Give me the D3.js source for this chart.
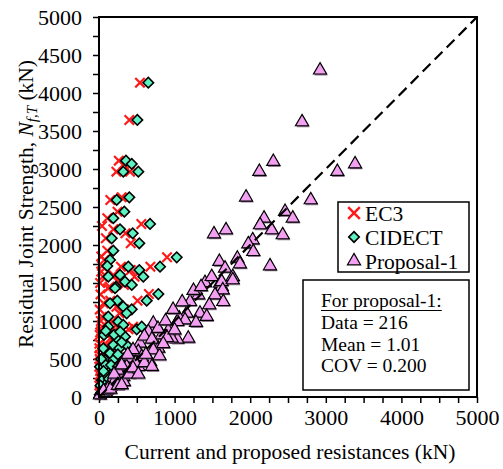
<!DOCTYPE html>
<html><head><meta charset="utf-8">
<script src="https://cdn.jsdelivr.net/npm/d3@7"></script>
<style>
body{margin:0;background:#fff}
svg text{font-family:"Liberation Serif","Times New Roman",serif;fill:#000}
</style>
</head><body>
<svg id="c" width="503" height="469" font-family="Liberation Serif, serif"></svg>
<script>
// ---- data (kN) ----
const xTicks = [0,1000,2000,3000,4000,5000];
const yTicks = [0,500,1000,1500,2000,2500,3000,3500,4000,4500,5000];

const cidectX = [652,507,357,433,321,520,234,401,335,189,278,675,446,168,533,189,146,110,388,533,807,1028,586,278,123,344,433,225,212,785,631,242,146,321,433,366,123,255,321,123,499,565,66,234,344,366,189,57,269,146,79,189,321,13,123,57,189,40,100,20,60,30,10,150,90,30,90,160,250,200,90,280,300,60,130,200,250,170,80];
const cidectY = [4136,3645,3110,3066,2965,2965,2593,2628,2439,2352,2207,2277,2154,2088,2023,1925,1803,1724,1715,1671,1715,1838,1583,1606,1583,1517,1474,1452,1431,1355,1267,1267,1233,1188,1154,1101,1057,991,948,925,891,925,816,772,794,684,684,641,641,575,487,487,509,399,378,290,333,220,180,150,100,60,30,250,300,500,420,420,560,820,870,860,720,340,240,180,400,90,40];

const ec3X = [542,401,262,330,230,410,150,300,245,110,190,560,350,90,420,110,70,40,290,420,680,900,470,190,50,250,330,140,120,660,510,150,60,230,330,270,40,170,230,40,390,450,10,150,250,270,100,5,180,60,20,100,230,5,50,10,110,30,15,20,10,25,15,5,10,5,20,5,10,30,40,10,40,90,170,120,30,190,210,15,60,120,170,100,30];
const ec3Y = [4136,3645,3110,3066,2965,2965,2593,2628,2439,2352,2207,2277,2154,2088,2023,1925,1803,1724,1715,1671,1715,1838,1583,1606,1583,1517,1474,1452,1431,1355,1267,1267,1233,1188,1154,1101,1057,991,948,925,891,925,816,772,794,684,684,641,641,575,487,487,509,399,378,290,333,1850,1500,1350,1150,1000,850,700,550,450,250,150,80,1650,2250,500,420,420,560,820,870,860,720,340,240,180,400,90,40];

const propX = [2924,2686,2306,2121,1945,2183,2130,2461,2285,2430,1521,1680,2033,1975,2041,1830,1592,1865,1667,1769,2262,1402,1491,1601,1623,3387,3153,2801,2563,1623,1769,1314,1204,1637,1535,1644,1459,1336,1160,1062,1138,1283,1425,1036,718,652,917,830,1181,1036,962,785,718,542,520,675,565,410,366,520,278,321,146,123,13,212,450,600,780,880,980,1100,1250,1350,700,480,250,380,900,1000,60,200,300,150,250,330,400,450,600,620,800,850,300,520,700];
const propY = [4300,3619,3097,2965,2628,2352,2264,2439,2198,2132,2145,2198,2066,2013,1912,1825,1781,1750,1694,1583,1724,1504,1583,1496,1452,3066,2965,2593,2352,1517,1540,1342,1254,1408,1342,1254,1211,1101,1101,1036,1013,978,1057,991,970,859,873,816,772,759,772,641,619,707,596,465,530,509,399,399,312,267,180,114,26,224,620,800,900,1000,1150,1250,1400,1450,760,450,350,560,780,880,80,300,420,100,150,200,300,380,450,560,540,700,160,300,400];

const seriesNames = ["EC3","CIDECT","Proposal-1"];
const statsLines = ["Data = 216","Mean = 1.01","COV = 0.200"];

// ---- chart ----
const FONT = "Liberation Serif, Times New Roman, serif";
const svg = d3.select("#c");
const x = d3.scaleLinear().domain([0,5000]).range([99,477]);
const y = d3.scaleLinear().domain([0,5000]).range([397,17]);
const minor = d3.range(0,5001,250);

const gx = svg.append("g").attr("transform","translate(0,397)")
  .call(d3.axisBottom(x).tickValues(minor).tickSize(6).tickSizeOuter(0)
    .tickFormat(d => xTicks.includes(d) ? d : ""));
gx.attr("font-family",FONT);
gx.select(".domain").remove();
gx.selectAll(".tick line").attr("stroke","#000").attr("stroke-width",1.5);
gx.selectAll(".tick text").attr("font-family",FONT).attr("font-size",22).attr("dy","0.76em").attr("y",11);

const gy = svg.append("g").attr("transform","translate(99,0)")
  .call(d3.axisLeft(y).tickValues(minor).tickSize(6).tickSizeOuter(0)
    .tickFormat(d => yTicks.includes(d) ? d : ""));
gy.attr("font-family",FONT);
gy.select(".domain").remove();
gy.selectAll(".tick line").attr("stroke","#000").attr("stroke-width",1.5);
gy.selectAll(".tick text").attr("font-family",FONT).attr("font-size",22).attr("x",-17);

// markers
const cross = d3.symbol().type(d3.symbolX).size(60);
const diamond = d3.symbol().type(d3.symbolSquare).size(55);
const tri = d3.symbol().type(d3.symbolTriangle).size(75);

svg.append("g").selectAll("path").data(ec3X.map((v,i)=>[v,ec3Y[i]])).join("path")
  .attr("d", cross).attr("transform", d=>`translate(${x(d[0])},${y(d[1])})`)
  .attr("stroke","#ff1a1a").attr("stroke-width",2.2).attr("fill","none");

svg.append("g").selectAll("path").data(cidectX.map((v,i)=>[v,cidectY[i]])).join("path")
  .attr("d", diamond).attr("transform", d=>`translate(${x(d[0])},${y(d[1])}) rotate(45)`)
  .attr("fill","#5ef2c2").attr("stroke","#000").attr("stroke-width",1.6);

const pd = propX.map((v,i)=>[v,propY[i]]);
const gp = svg.append("g");
pd.forEach(d=>{
  gp.append("path").attr("d",tri).attr("transform",`translate(${x(d[0])+1},${y(d[1])+1.5})`)
    .attr("fill","#6e4a6e").attr("opacity",0.75);
  gp.append("path").attr("d",tri).attr("transform",`translate(${x(d[0])},${y(d[1])})`)
    .attr("fill","#f3a0f3").attr("stroke","#000").attr("stroke-width",1.2);
});

// 1:1 line
svg.append("line").attr("x1",x(0)).attr("y1",y(0)).attr("x2",x(5000)).attr("y2",y(5000))
  .attr("stroke","#000").attr("stroke-width",2.2).attr("stroke-dasharray","11,6");

// frame
svg.append("rect").attr("x",99).attr("y",17).attr("width",378).attr("height",380)
  .attr("fill","none").attr("stroke","#000").attr("stroke-width",2);

// axis titles
svg.append("text").attr("x",290).attr("y",459).attr("text-anchor","middle").attr("font-size",21.5)
  .attr("font-family",FONT).text("Current and proposed resistances (kN)");
const yt = svg.append("text").attr("transform","translate(33,348) rotate(-90)").attr("font-size",21.5).attr("font-family",FONT);
yt.append("tspan").text("Residual Joint Strength, ");
yt.append("tspan").attr("font-style","italic").text("N");
yt.append("tspan").attr("font-style","italic").attr("font-size",15).attr("dy",4).text("f,T");
yt.append("tspan").attr("dy",-4).text(" (kN)");

// legend
const lg = svg.append("g").attr("font-family",FONT);
lg.append("rect").attr("x",338).attr("y",202).attr("width",131).attr("height",70)
  .attr("fill","#fff").attr("stroke","#000").attr("stroke-width",1.5);
const ly = [213,237,261];
lg.append("path").attr("d",d3.symbol().type(d3.symbolX).size(90)).attr("transform",`translate(354,${ly[0]})`)
  .attr("stroke","#ff1a1a").attr("stroke-width",2.5).attr("fill","none");
lg.append("path").attr("d",diamond).attr("transform",`translate(354,${ly[1]}) rotate(45)`)
  .attr("fill","#5ef2c2").attr("stroke","#000").attr("stroke-width",1.6);
lg.append("path").attr("d",tri).attr("transform",`translate(354,${ly[2]})`)
  .attr("fill","#f3a0f3").attr("stroke","#000").attr("stroke-width",1.2);
seriesNames.forEach((n,i)=>{
  lg.append("text").attr("x",365).attr("y",ly[i]).attr("dy","0.35em").attr("font-size",21.5)
    .attr("font-family",FONT).text(n);
});

// stats box
const sb = svg.append("g").attr("font-family",FONT);
sb.append("rect").attr("x",303).attr("y",280).attr("width",166).attr("height",110)
  .attr("fill","#fff").attr("stroke","#000").attr("stroke-width",1.5);
const hdr = sb.append("text").attr("x",321).attr("y",307).attr("font-size",19.5).attr("font-family",FONT).text("For proposal-1:");
const bb = hdr.node().getBBox();
sb.append("line").attr("x1",321).attr("x2",321+bb.width).attr("y1",310.5).attr("y2",310.5)
  .attr("stroke","#000").attr("stroke-width",1);
const sy = [329,351,372];
statsLines.forEach((t,i)=>{
  sb.append("text").attr("x",321).attr("y",sy[i]).attr("font-size",19.5).attr("font-family",FONT).text(t);
});
</script>
</body></html>
